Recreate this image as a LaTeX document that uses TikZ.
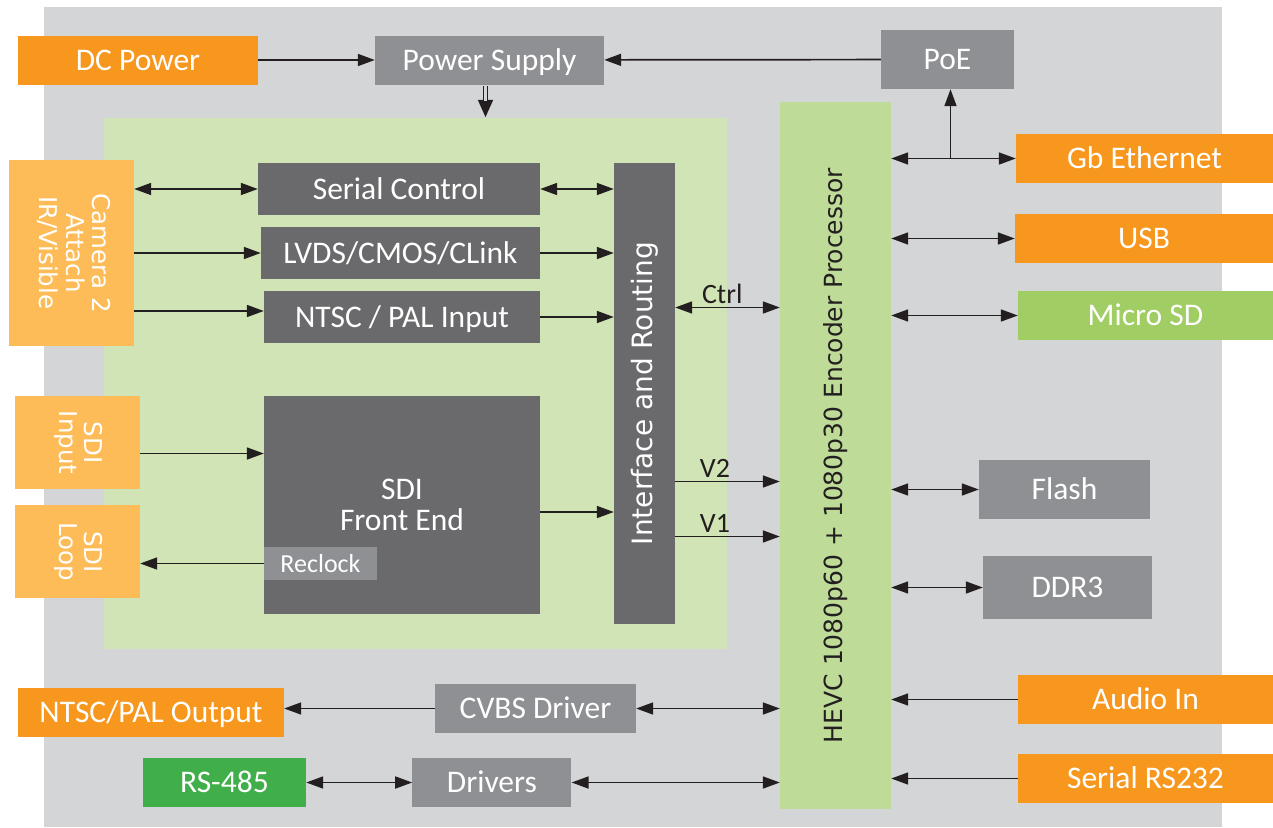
\documentclass[tikz,border=0pt]{standalone}
\usepackage{graphicx}
\usepackage{fontspec}
\setmainfont{Carlito}
\newfontfamily\dvfam{DejaVu Sans}
\usetikzlibrary{arrows.meta, positioning}
\definecolor{orng}{HTML}{F7971E}
\definecolor{lorng}{HTML}{FDBC57}
\definecolor{bggray}{HTML}{D4D5D7}
\definecolor{lgreen}{HTML}{D1E4B5}
\definecolor{pgreen}{HTML}{BEDC98}
\definecolor{sdgreen}{HTML}{A0CD64}
\definecolor{dgreen}{HTML}{40AE49}
\definecolor{mgray}{HTML}{8F9094}
\definecolor{dgray}{HTML}{6A6A6C}
\definecolor{ink}{HTML}{231F20}
\newcommand{\boxfnt}{\fontsize{31.5}{34}\selectfont}
\newcommand{\sidefnt}{\dvfam\fontsize{24.5}{25.5}\selectfont}
\newcommand{\tagfnt}{\fontsize{28}{30}\selectfont}
\tikzset{>={Triangle[length=17pt, width=12pt]},
         every node/.style = {inner sep = 0pt, text = white},
         every edge/.style = {draw = ink, line width = 1.7pt},
         wh/.style 2 args = {minimum width = #1pt, minimum height = #2pt},
         flat/.style = {text height = 26pt, text depth = 6pt},
         io/.style = {rectangle, fill = orng, font = \boxfnt, flat},
         feed/.style = {rectangle, fill = lorng, font = \sidefnt},
         part/.style = {rectangle, fill = mgray, font = \boxfnt, flat},
         blk/.style = {rectangle, fill = dgray, font = \boxfnt},
         tag/.style = {text = ink, font = \tagfnt},
         feedline/.style = {-{Triangle[length=18pt, width=14pt]}, line width = 4.5pt,
                            postaction = {draw = bggray, line width = 2.3pt, shorten >= 17pt, -}}}

\begin{document}
\begin{tikzpicture}[x=1pt, y=-1pt]
  \useasboundingbox (0,0) rectangle (1273,827);
  % back planes
  \node[rectangle, fill=bggray, wh={1178}{820}] (board) at (633,417) {};
  \node[rectangle, fill=lgreen, wh={623}{531}]  (front) at (415.5,383.5) {};

  % power
  \node[io, wh={240}{49}]   (dc)  at (138,60)      {DC Power};
  \node[part, wh={229}{49}] (ps)  at (489.5,60)    {Power Supply};
  \node[part, wh={133}{59}] (poe) at (947.5,59.5)  {PoE};

  % camera side
  \node[feed, wh={125}{186}] (cam) at (71.5,253)
       {\rotatebox{-90}{\begin{tabular}{@{}c@{}}Camera 2\\Attach\\IR/Visible\end{tabular}}};
  \node[blk, flat, wh={282}{52}] (serial) at (399,189)   {Serial Control};
  \node[blk, flat, wh={279}{52}] (lvds)   at (400.5,253) {LVDS/CMOS/CLink};
  \node[blk, flat, wh={276}{52}] (ntscin) at (402,317)   {NTSC / PAL Input};

  % sdi side
  \node[feed, wh={125}{93}]  (sdiin)   at (77.5,442.5)
       {\rotatebox{-90}{\begin{tabular}{@{}c@{}}SDI\\Input\end{tabular}}};
  \node[feed, wh={125}{93}, below=16pt of sdiin] (sdiloop)
       {\rotatebox{-90}{\begin{tabular}{@{}c@{}}SDI\\Loop\end{tabular}}};
  \node[blk, wh={276}{218}, align=center] (fe) at (402,505) {SDI\\[-3pt]Front End};
  \node[rectangle, fill=mgray, wh={113}{33}, font=\fontsize{26}{28}\selectfont,
        text height=22pt, text depth=5pt, anchor=south west]
       (reclock) at ([yshift=34pt]fe.south west) {Reclock};

  % routing and processor
  \node[blk, wh={61}{461}] (route) at (644.5,393.5)
       {\rotatebox{90}{\dvfam\fontsize{28}{30}\selectfont Interface and Routing}};
  \node[rectangle, fill=pgreen, wh={111}{707}, text=ink] (proc) at (835.5,455.5)
       {\rotatebox{90}{\dvfam\fontsize{25}{27}\selectfont HEVC 1080p60 + 1080p30 Encoder Processor}};

  % right side
  \node[io, wh={257}{49}]   (eth)   at (1144.5,158.5) {Gb Ethernet};
  \node[io, wh={258}{49}]   (usb)   at (1144,238.5)   {USB};
  \node[rectangle, fill=sdgreen, font=\boxfnt, flat, wh={255}{49}] (sd) at (1145.5,315.5) {Micro SD};
  \node[part, wh={171}{59}] (flash) at (1064.5,489.5) {Flash};
  \node[part, wh={169}{63}] (ddr)   at (1067.5,587.5) {DDR3};
  \node[io, wh={255}{49}]   (audio) at (1145.5,699.5) {Audio In};
  \node[io, wh={255}{49}]   (rs232) at (1145.5,778.5) {Serial RS232};

  % bottom
  \node[io, wh={266}{49}]   (ntscout) at (151,712.5)   {NTSC/PAL Output};
  \node[part, wh={201}{49}] (cvbs)    at (535.5,708.5) {CVBS Driver};
  \node[rectangle, fill=dgreen, font=\boxfnt, flat, wh={163}{49}] (rs485) at (224.5,782.5) {RS-485};
  \node[part, wh={159}{49}, right=106pt of rs485] (drv) {Drivers};

  % connectors
  \path (dc) edge[->] (ps);
  \path (poe) edge[->] (ps);
  \path ([xshift=-4pt, yshift=-1pt]ps.south) edge[feedline] ([xshift=-4pt]ps.south |- front.north);

  \path (serial.west -| cam.east) edge[<->] (serial.west);
  \path (serial.east) edge[<->] (serial.east -| route.west);
  \path (lvds.west -| cam.east) edge[->] (lvds.west);
  \path (lvds.east) edge[->] (lvds.east -| route.west);
  \path ([yshift=6pt]ntscin.west -| cam.east) edge[->] ([yshift=6pt]ntscin.west);
  \path (ntscin.east) edge[->] (ntscin.east -| route.west);
  \path ([yshift=-11pt]sdiin.east) edge[->] ([yshift=-11pt]sdiin.east -| fe.west);
  \path (reclock.west) edge[->] (reclock.west -| sdiloop.east);
  \path ([yshift=-7pt]fe.east) edge[->] ([yshift=-7pt]fe.east -| route.west);

  \path ([yshift=86pt]route.east) edge[<->] node[tag, above=3pt, pos=0.45] {Ctrl} ([yshift=86pt]route.east -| proc.west);
  \path ([yshift=-88pt]route.east) edge[->] node[tag, above=3pt, pos=0.38] {V2} ([yshift=-88pt]route.east -| proc.west);
  \path ([yshift=-143pt]route.east) edge[->] node[tag, above=3pt, pos=0.38] {V1} ([yshift=-143pt]route.east -| proc.west);

  \path (eth.west -| proc.east) edge[<->] (eth.west);
  \path ([xshift=3pt]eth.west -| poe.south) edge[->] ([xshift=3pt]poe.south);
  \path (usb.west -| proc.east) edge[<->] (usb.west);
  \path (sd.west -| proc.east) edge[<->] (sd.west);
  \path (flash.west -| proc.east) edge[<->] (flash.west);
  \path (ddr.west -| proc.east) edge[<->] (ddr.west);
  \path (audio.west) edge[->] (audio.west -| proc.east);
  \path (rs232.west) edge[->] (rs232.west -| proc.east);

  \path (cvbs.east) edge[<->] (cvbs.east -| proc.west);
  \path (cvbs.west) edge[->] (cvbs.west -| ntscout.east);
  \path (rs485) edge[<->] (drv);
  \path (drv.east) edge[<->] (drv.east -| proc.west);
\end{tikzpicture}
\end{document}
